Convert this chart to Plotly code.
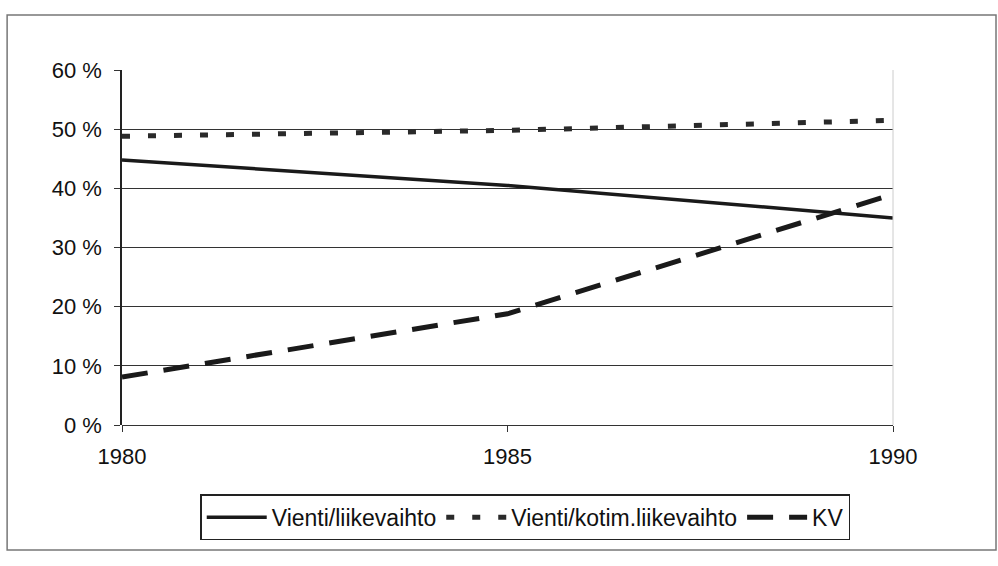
import plotly.graph_objects as go

years = [1980, 1985, 1990]
vienti_liikevaihto = [44.8, 40.5, 35.0]
vienti_kotim = [48.8, 49.8, 51.5]
kv = [8.1, 18.8, 39.0]

series_names = ["Vienti/liikevaihto", "Vienti/kotim.liikevaihto", "KV"]
y_ticks = [0, 10, 20, 30, 40, 50, 60]
y_tick_labels = ["0 %", "10 %", "20 %", "30 %", "40 %", "50 %", "60 %"]
x_ticks = [1980, 1985, 1990]

FONT = "Liberation Sans, Arial, sans-serif"

fig = go.Figure()
fig.add_trace(go.Scatter(x=years, y=vienti_liikevaihto, name=series_names[0], mode="lines",
                         line=dict(color="#1a1a1a", width=3.5)))
fig.add_trace(go.Scatter(x=years, y=vienti_kotim, name=series_names[1], mode="lines",
                         line=dict(color="#2a2a2a", width=5, dash="8px,18px")))
fig.add_trace(go.Scatter(x=years, y=kv, name=series_names[2], mode="lines",
                         line=dict(color="#1a1a1a", width=5, dash="26px,16px")))

# outer frame
fig.add_shape(type="rect", xref="paper", yref="paper",
              x0=-0.149, x1=1.1336, y0=-0.352, y1=1.155,
              line=dict(color="#777", width=1.5), layer="below")

fig.update_layout(
    width=998, height=566,
    margin=dict(l=122, r=105, t=70, b=141),
    paper_bgcolor="white", plot_bgcolor="white",
    font=dict(family=FONT, size=21, color="#111"),
    showlegend=True,
    legend=dict(orientation="h", x=0.523, xanchor="center", y=-0.26, yanchor="middle",
                bordercolor="#222", borderwidth=1.5, bgcolor="white",
                font=dict(family=FONT, size=23, color="#111"),
                itemwidth=60, tracegroupgap=0),
    xaxis=dict(range=[1980, 1990], tickvals=x_ticks, ticktext=[str(v) for v in x_ticks],
               showgrid=False, zeroline=False, showline=False,
               ticks="outside", ticklen=6, tickcolor="#333",
               tickfont=dict(family=FONT, size=22, color="#111"), ticklabelstandoff=6),
    yaxis=dict(range=[0, 60], tickvals=y_ticks, ticktext=y_tick_labels,
               showgrid=True, gridcolor="#333", gridwidth=1,
               zeroline=True, zerolinecolor="#333", zerolinewidth=1,
               showline=True, linecolor="#222", linewidth=1.5,
               ticks="outside", ticklen=6, tickcolor="#333", ticklabelstandoff=8,
               tickfont=dict(family=FONT, size=22, color="#111")),
)

# light right border of plot area
fig.add_shape(type="line", xref="paper", yref="paper", x0=1, x1=1, y0=0, y1=1,
              line=dict(color="#ccc", width=1))

fig.write_html("out.html", config={"displayModeBar": False},
               post_script="document.body.style.margin='0';document.body.style.overflow='hidden';")
